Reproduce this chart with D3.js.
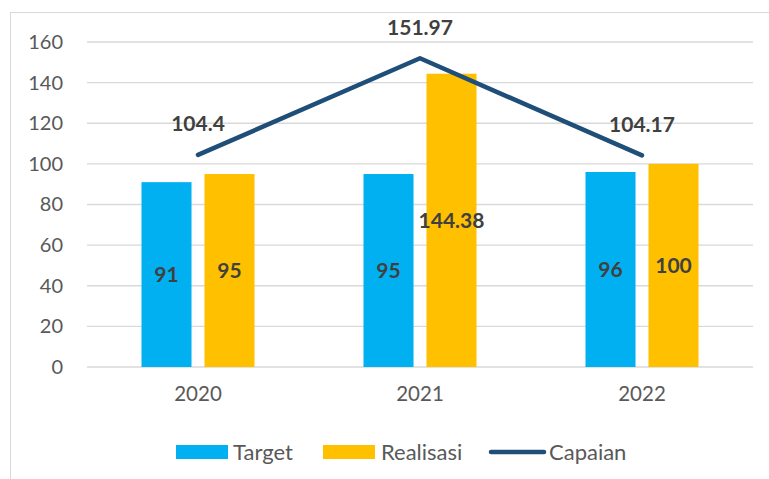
<!DOCTYPE html>
<html>
<head>
<meta charset="utf-8">
<script src="https://cdn.jsdelivr.net/npm/d3@7"></script>
<style>
  body { margin: 0; background: #fff; }
  text { font-family: Lato, "Open Sans", sans-serif; }
</style>
</head>
<body>
<script>
var years = ["2020", "2021", "2022"];
var target = [91, 95, 96];
var realisasi = [95, 144.38, 100];
var capaian = [104.4, 151.97, 104.17];
var yTicks = [0, 20, 40, 60, 80, 100, 120, 140, 160];
var seriesNames = ["Target", "Realisasi"];

var width = 769, height = 479;
var colors = { Target: "#00b0f0", Realisasi: "#ffc000" };
var lineColor = "#1f4e79";

var svg = d3.select("body").append("svg")
    .attr("width", width)
    .attr("height", height);

// chart border
svg.append("rect")
    .attr("x", 10.5).attr("y", 12.5)
    .attr("width", 800).attr("height", 500)
    .attr("fill", "none")
    .attr("stroke", "#d9d9d9");

var x0 = d3.scaleBand().domain(years).range([87, 753]).padding(0);
var x1 = d3.scaleBand().domain(seriesNames)
    .range([0, x0.bandwidth()])
    .paddingInner(0.206)
    .paddingOuter(0.865);
var y = d3.scaleLinear().domain([0, 160]).range([367, 42]);

// gridlines
svg.append("g").selectAll("line")
    .data(yTicks)
    .enter().append("line")
    .attr("x1", 87).attr("x2", 753)
    .attr("y1", function(d) { return y(d); })
    .attr("y2", function(d) { return y(d); })
    .attr("stroke", "#d9d9d9")
    .attr("stroke-width", 1.3);

// y axis labels
var yAxis = d3.axisLeft(y).tickValues(yTicks).tickSize(0).tickPadding(24);
var gy = svg.append("g").attr("transform", "translate(87,0)").call(yAxis);
gy.select(".domain").remove();
gy.selectAll("text")
    .attr("font-size", 20)
    .attr("fill", "#595959")
    .style("font-family", "Lato, sans-serif");

// x axis labels
var xAxis = d3.axisBottom(x0).tickSize(0).tickPadding(19);
var gx = svg.append("g").attr("transform", "translate(0,367)").call(xAxis);
gx.select(".domain").remove();
gx.selectAll("text")
    .attr("font-size", 20.5)
    .attr("fill", "#595959")
    .style("font-family", "Lato, sans-serif");

var rows = years.map(function(yr, i) {
    return { year: yr, Target: target[i], Realisasi: realisasi[i] };
});

// bars
var groups = svg.append("g").selectAll("g")
    .data(rows)
    .enter().append("g")
    .attr("transform", function(d) { return "translate(" + x0(d.year) + ",0)"; });

var cells = groups.selectAll("g")
    .data(function(d) { return seriesNames.map(function(s) { return { key: s, value: d[s] }; }); })
    .enter().append("g");

cells.append("rect")
    .attr("x", function(d) { return x1(d.key); })
    .attr("y", function(d) { return y(d.value); })
    .attr("width", x1.bandwidth())
    .attr("height", function(d) { return y(0) - y(d.value); })
    .attr("fill", function(d) { return colors[d.key]; });

cells.append("text")
    .attr("x", function(d) { return x1(d.key) + x1.bandwidth() / 2; })
    .attr("y", function(d) { return (y(d.value) + y(0)) / 2; })
    .attr("dy", "0.35em")
    .attr("text-anchor", "middle")
    .attr("font-size", 21)
    .attr("font-weight", "bold")
    .attr("fill", "#404040")
    .text(function(d) { return d.value; });

// capaian line
var line = d3.line()
    .x(function(d, i) { return x0(years[i]) + x0.bandwidth() / 2; })
    .y(function(d) { return y(d); });

svg.append("path")
    .datum(capaian)
    .attr("d", line)
    .attr("fill", "none")
    .attr("stroke", lineColor)
    .attr("stroke-width", 4.5)
    .attr("stroke-linecap", "round")
    .attr("stroke-linejoin", "round");

svg.append("g").selectAll("text")
    .data(capaian)
    .enter().append("text")
    .attr("x", function(d, i) { return x0(years[i]) + x0.bandwidth() / 2; })
    .attr("y", function(d) { return y(d) - 31; })
    .attr("dy", "0.35em")
    .attr("text-anchor", "middle")
    .attr("font-size", 21)
    .attr("font-weight", "bold")
    .attr("fill", "#404040")
    .text(function(d) { return d; });

// legend
var legY = 452;
var leg = svg.append("g");
leg.append("rect").attr("x", 176).attr("y", legY - 7).attr("width", 52).attr("height", 14).attr("fill", colors.Target);
leg.append("text").attr("x", 233).attr("y", legY).attr("dy", "0.35em").attr("font-size", 22).attr("fill", "#595959").text("Target");
leg.append("rect").attr("x", 323).attr("y", legY - 7).attr("width", 52).attr("height", 14).attr("fill", colors.Realisasi);
leg.append("text").attr("x", 381).attr("y", legY).attr("dy", "0.35em").attr("font-size", 22).attr("fill", "#595959").text("Realisasi");
leg.append("line").attr("x1", 491).attr("x2", 544).attr("y1", legY).attr("y2", legY)
    .attr("stroke", lineColor).attr("stroke-width", 4.5).attr("stroke-linecap", "round");
leg.append("text").attr("x", 549).attr("y", legY).attr("dy", "0.35em").attr("font-size", 22).attr("fill", "#595959").text("Capaian");
</script>
</body>
</html>
